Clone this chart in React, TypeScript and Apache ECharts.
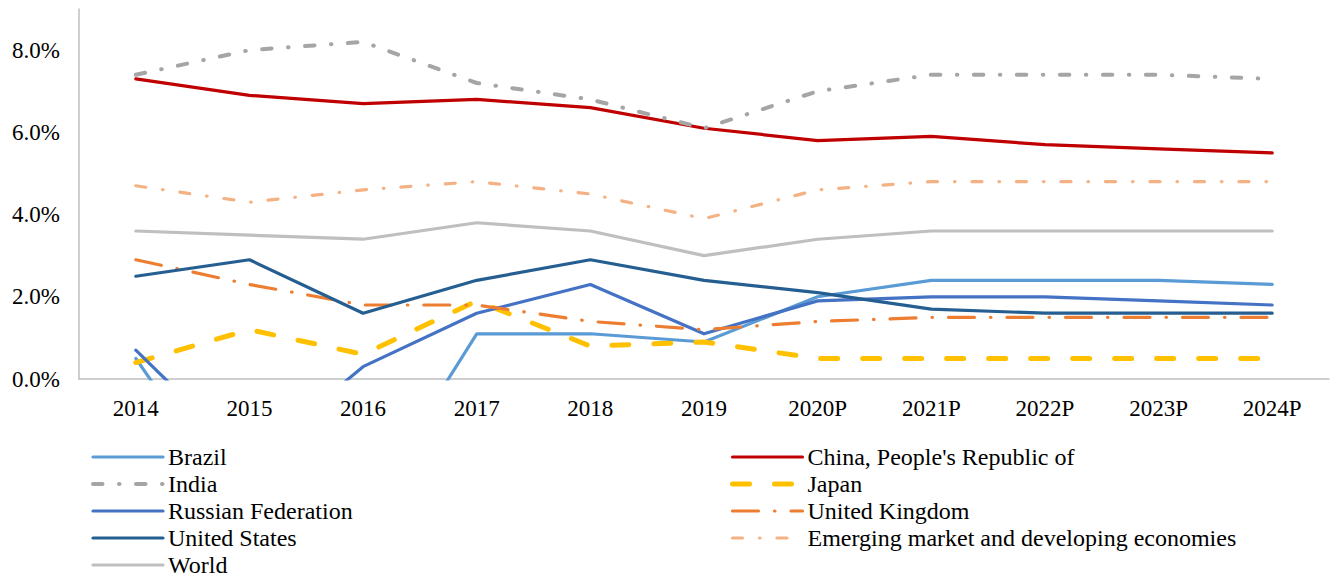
import React, { useEffect, useRef } from "react";
import * as echarts from "echarts";

const categories = ["2014", "2015", "2016", "2017", "2018", "2019", "2020P", "2021P", "2022P", "2023P", "2024P"];

const brazil = [0.5, -3.5, -3.3, 1.1, 1.1, 0.9, 2.0, 2.4, 2.4, 2.4, 2.3];
const china = [7.3, 6.9, 6.7, 6.8, 6.6, 6.1, 5.8, 5.9, 5.7, 5.6, 5.5];
const india = [7.4, 8.0, 8.2, 7.2, 6.8, 6.1, 7.0, 7.4, 7.4, 7.4, 7.3];
const japan = [0.4, 1.2, 0.6, 1.9, 0.8, 0.9, 0.5, 0.5, 0.5, 0.5, 0.5];
const russia = [0.7, -2.0, 0.3, 1.6, 2.3, 1.1, 1.9, 2.0, 2.0, 1.9, 1.8];
const uk = [2.9, 2.3, 1.8, 1.8, 1.4, 1.2, 1.4, 1.5, 1.5, 1.5, 1.5];
const us = [2.5, 2.9, 1.6, 2.4, 2.9, 2.4, 2.1, 1.7, 1.6, 1.6, 1.6];
const emde = [4.7, 4.3, 4.6, 4.8, 4.5, 3.9, 4.6, 4.8, 4.8, 4.8, 4.8];
const world = [3.6, 3.5, 3.4, 3.8, 3.6, 3.0, 3.4, 3.6, 3.6, 3.6, 3.6];

const yTicks = [0, 2, 4, 6, 8];

const FONT = "'Liberation Serif', 'Times New Roman', serif";

export default function App() {
  const ref = useRef<HTMLDivElement>(null);

  useEffect(() => {
    document.body.style.margin = "0";
    if (!ref.current) return;
    const chart = echarts.init(ref.current, undefined, { renderer: "svg" });

    const mk = (name: string, data: number[], color: string, width: number, type: any) => ({
      name,
      type: "line",
      data,
      symbol: "none",
      clip: true,
      lineStyle: { color, width, type, cap: "round", join: "round" },
      itemStyle: { color },
    });

    const series = [
      mk("Brazil", brazil, "#5B9BD5", 3.2, "solid"),
      mk("China, People's Republic of", china, "#C00000", 3.2, "solid"),
      mk("India", india, "#A5A5A5", 4, [9.5, 16.5, 0.5, 16.5]),
      mk("Japan", japan, "#FFC000", 5, [17, 25]),
      mk("Russian Federation", russia, "#4472C4", 3.2, "solid"),
      mk("United Kingdom", uk, "#ED7D31", 3.2, [26, 16, 0.5, 16]),
      mk("United States", us, "#255E91", 3.2, "solid"),
      mk("Emerging market and developing economies", emde, "#F4B183", 3.2, [10, 17, 0.5, 17]),
      mk("World", world, "#BFBFBF", 3.2, "solid"),
    ];

    const legendText = { fontFamily: FONT, fontSize: 24, color: "#000", lineHeight: 24 };
    const legendCommon = {
      orient: "vertical",
      top: 445,
      height: 150,
      padding: 0,
      itemWidth: 70,
      itemHeight: 14,
      itemGap: 3,
      textStyle: legendText,
      itemStyle: { color: "rgba(0,0,0,0)", borderWidth: 0, opacity: 0 },
      lineStyle: { width: "inherit" },
    };

    chart.setOption({
      animation: false,
      grid: { left: 79, right: 2, top: 9, bottom: 200, containLabel: false },
      xAxis: {
        type: "category",
        data: categories,
        boundaryGap: true,
        axisTick: { show: false },
        axisLine: { show: true, lineStyle: { color: "#BFBFBF", width: 1.5 } },
        axisLabel: { fontFamily: FONT, fontSize: 23, color: "#000", margin: 18, interval: 0 },
        splitLine: { show: false },
      },
      yAxis: {
        type: "value",
        min: 0,
        max: 9,
        interval: 2,
        axisTick: { show: false },
        axisLine: { show: true, lineStyle: { color: "#BFBFBF", width: 1.5 } },
        splitLine: { show: false },
        axisLabel: {
          fontFamily: FONT,
          fontSize: 23,
          color: "#000",
          margin: 19,
          formatter: (v: number) => (yTicks.indexOf(v) >= 0 ? v.toFixed(1) + "%" : ""),
        },
      },
      legend: [
        {
          ...legendCommon,
          left: 91,
          data: ["Brazil", "India", "Russian Federation", "United States", "World"],
        },
        {
          ...legendCommon,
          left: 730,
          data: ["China, People's Republic of", "Japan", "United Kingdom", "Emerging market and developing economies"],
        },
      ],
      series,
    });

    return () => chart.dispose();
  }, []);

  return <div ref={ref} style={{ width: 1331, height: 579, position: "absolute", left: 0, top: 0 }} />;
}
